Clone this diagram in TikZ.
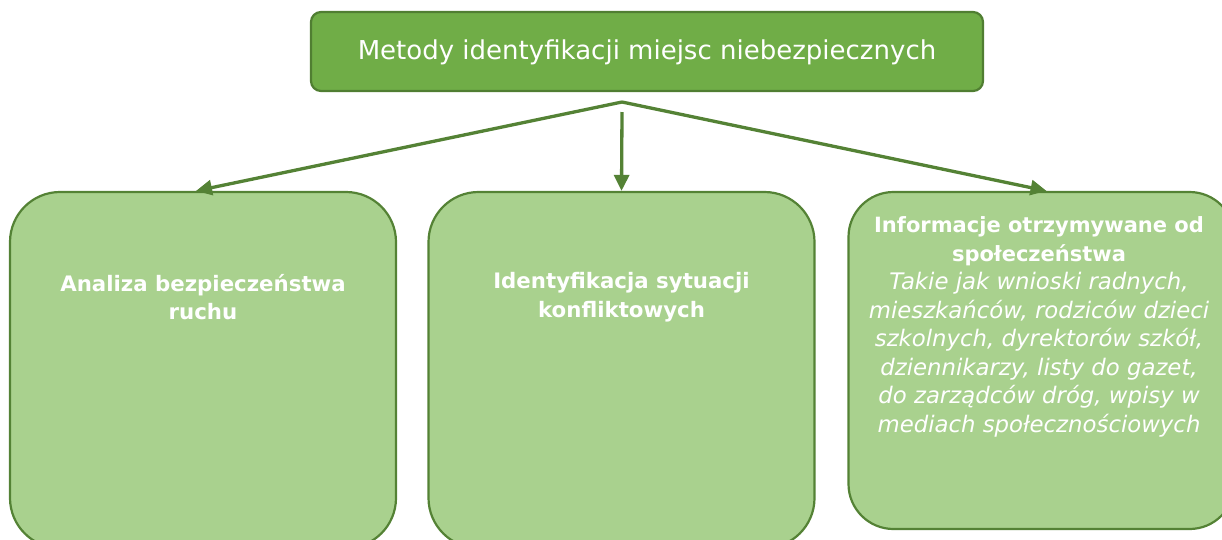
\documentclass[tikz,border=0pt]{standalone}
\usepackage{fontspec}
\setmainfont{DejaVu Sans}
\usetikzlibrary{arrows.meta}
\definecolor{topfill}{HTML}{70AD47}
\definecolor{topedge}{HTML}{507E32}
\definecolor{boxfill}{HTML}{A9D18E}
\definecolor{boxedge}{HTML}{548235}
\tikzset{
  topbox/.style={draw=topedge, fill=topfill, line width=2.2pt, rounded corners=10pt, minimum width=672pt, minimum height=79pt, inner sep=0pt},
  subbox/.style={draw=boxedge, fill=boxfill, line width=2.2pt, rounded corners=50pt, minimum width=386pt, inner sep=0pt},
  boxtext/.style={text=white, align=center, font=\fontsize{21.3}{28.5}\selectfont\bfseries},
  conn/.style={draw=boxedge, line width=3.3pt, -{Triangle[length=16pt,width=15pt]}}
}
\begin{document}
\begin{tikzpicture}[x=1pt,y=-1pt]
\useasboundingbox (0,0) rectangle (1222,539);
\clip (0,0) rectangle (1222,539);
\node[topbox] (top) at (647,51.5) {};
\node[text=white, font=\fontsize{26}{30}\selectfont] (toptext) at (647,52) {Metody identyfikacji miejsc niebezpiecznych};
\node[subbox, minimum height=356pt] (b1) at (203,370) {};
\node[subbox, minimum height=356pt] (b2) at (621.5,370) {};
\node[subbox, minimum height=337pt, rounded corners=45pt] (b3) at (1041.5,360.5) {};
\node[boxtext] (t1) at (203,297) {Analiza bezpieczeństwa\\ruchu};
\node[boxtext] (t2) at (621.5,297) {Identyfikacja sytuacji\\konfliktowych};
\node[boxtext, font=\fontsize{21}{28.5}\selectfont] (t3) at (1039,327) {\textbf{Informacje otrzymywane od}\\\textbf{społeczeństwa}\\\fontsize{22.8}{28.5}\selectfont\itshape\mdseries Takie jak wnioski radnych,\\\fontsize{22.8}{28.5}\selectfont\itshape\mdseries mieszkańców, rodziców dzieci\\\fontsize{22.8}{28.5}\selectfont\itshape\mdseries szkolnych, dyrektorów szkół,\\\fontsize{22.8}{28.5}\selectfont\itshape\mdseries dziennikarzy, listy do gazet,\\\fontsize{22.8}{28.5}\selectfont\itshape\mdseries do zarządców dróg, wpisy w\\\fontsize{22.8}{28.5}\selectfont\itshape\mdseries mediach społecznościowych};
\coordinate (hub) at (622,102);
\coordinate (hubm) at (622,112);
\draw[conn] (hub) -- ([xshift=-7pt]b1.north);
\draw[conn] (hubm) -- (b2.north);
\draw[conn] (hub) -- ([xshift=5pt]b3.north);
\end{tikzpicture}
\end{document}
